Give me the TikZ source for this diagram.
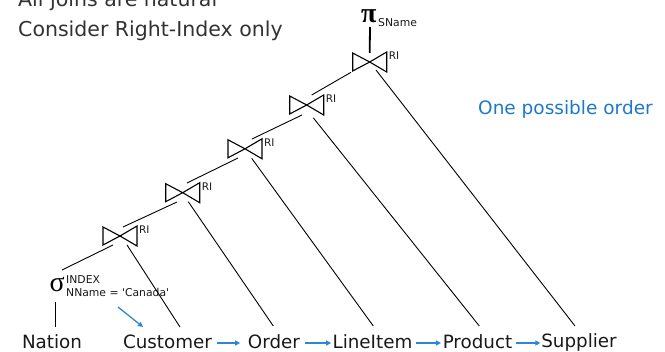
\documentclass[tikz,border=0pt]{standalone}
\usepackage{fontspec}
\setmainfont{DejaVu Sans}
\newfontfamily\greekfont{Liberation Serif}
\usetikzlibrary{arrows.meta,calc}
\definecolor{hintblue}{RGB}{30,120,200}
\definecolor{flowblue}{RGB}{45,135,210}
\definecolor{ink}{RGB}{25,25,25}
\definecolor{note}{RGB}{50,50,50}

\begin{document}
\begin{tikzpicture}[x=1pt,y=-1pt,
  rel/.style={font=\fontsize{18.3}{20}\selectfont, text=ink, inner sep=0pt, anchor=base},
  notetext/.style={font=\fontsize{20.5}{24}\selectfont, text=note, inner sep=0pt, anchor=base west},
  small/.style={font=\fontsize{10.8}{12}\selectfont, text=ink, inner sep=0pt, anchor=base west},
  ri/.style={font=\fontsize{10.5}{12}\selectfont, text=ink, inner sep=0pt, anchor=base west},
  greek/.style={inner sep=0pt, anchor=base west, text=black},
  edge/.style={draw=black, line width=0.9pt},
  flow/.style={draw=flowblue, line width=1.3pt, -{Triangle[length=5pt,width=5pt]}},
  bowtie/.pic={
    \draw[line width=1.1pt, line join=miter]
      (-17,-9) -- (-17,9) -- (0,0) -- cycle
      (17,-10) -- (17,10) -- (0,0) -- cycle;
    \node[ri] at (19,-2) {RI};
  }
]
\useasboundingbox (0,0) rectangle (665,352);
\clip (0,0) rectangle (665,352);

% notes
\node[notetext] (n1) at (18,6.7) {All joins are natural};
\node[notetext] (n2) at (18,36.7) {Consider Right-Index only};
\node[font=\fontsize{18.5}{22}\selectfont, text=hintblue, inner sep=0pt, anchor=base west]
  (hint) at (478,115) {One possible order};

% join operators, bottom to top
\coordinate (J1) at (120,236);
\coordinate (J2) at (182.7,192.7);
\coordinate (J3) at (245,148.8);
\coordinate (J4) at (306.7,105);
\coordinate (J5) at (369.7,62);
\foreach \j in {J1,J2,J3,J4,J5} \pic at (\j) {bowtie};

% base relations
\node[rel] (nation)   at (52,349)    {Nation};
\node[rel] (customer) at (167.5,349) {Customer};
\node[rel] (order)    at (274,349)   {Order};
\node[rel] (lineitem) at (372.5,349) {LineItem};
\node[rel] (product)  at (477.5,349) {Product};
\node[rel] (supplier) at (579,347.5) {Supplier};

% selection on Nation
\node[greek, font=\greekfont\fontsize{28}{30}\selectfont] (sigma) at (49.5,292) {σ};
\node[small] (sigmaidx)  at (66,284)   {INDEX};
\node[small] (sigmacond) at (66,296.5) {NName = \textquotesingle Canada\textquotesingle};

% projection
\node[greek, font=\greekfont\bfseries\fontsize{28}{30}\selectfont] (pi) at (361,23) {π};
\node[small] (pisub) at (378,27) {SName};

% left-deep spine
\draw[edge] ($(nation.base)+(3,-22)$) -- ($(sigma.base west)+(5.5,10)$);
\draw[edge] ($(sigma.base west)+(12.5,-22)$) -- ($(J1)+(-7,9)$);
\draw[edge] ($(J1)+(3,-9)$)   -- ($(J2)+(-5.7,9.3)$);
\draw[edge] ($(J2)+(4.3,-9.7)$) -- ($(J3)+(-7,9.2)$);
\draw[edge] ($(J3)+(7,-9.8)$) -- ($(J4)+(-4.7,10)$);
\draw[edge] ($(J4)+(5,-10)$)  -- ($(J5)+(-18.7,10.3)$);
\draw[line width=1.8pt] ($(pi.base west)+(9,4)$) -- ($(J5)+(0,-9)$);

% right inputs
\draw[edge] ($(J1)+(7,9)$)     -- ($(customer.base)+(12.5,-22)$);
\draw[edge] ($(J2)+(5.6,9)$)   -- ($(order.base)+(-0.7,-23)$);
\draw[edge] ($(J3)+(6.7,9.5)$) -- ($(lineitem.base)+(0.8,-23)$);
\draw[edge] ($(J4)+(6.6,12.8)$) -- ($(product.base)+(1.8,-23)$);
\draw[edge] ($(J5)+(6.3,8)$)   -- ($(supplier.base)+(-4,-21.5)$);

% join order
\draw[flow] ($(sigma.base west)+(68.5,15)$) -- ($(customer.base)+(-24.5,-22)$);
\draw[flow] ($(customer.base east)+(4.7,-6)$) -- ($(order.base west)+(-7.6,-6)$);
\draw[flow] ($(order.base east)+(5,-6)$)      -- ($(lineitem.base west)+(-1.2,-6)$);
\draw[flow] ($(lineitem.base east)+(3.4,-6)$) -- ($(product.base west)+(-1.6,-6)$);
\draw[flow] ($(product.base east)+(4,-6)$)    -- ($(supplier.base west)+(-0.7,-4.5)$);
\end{tikzpicture}
\end{document}
